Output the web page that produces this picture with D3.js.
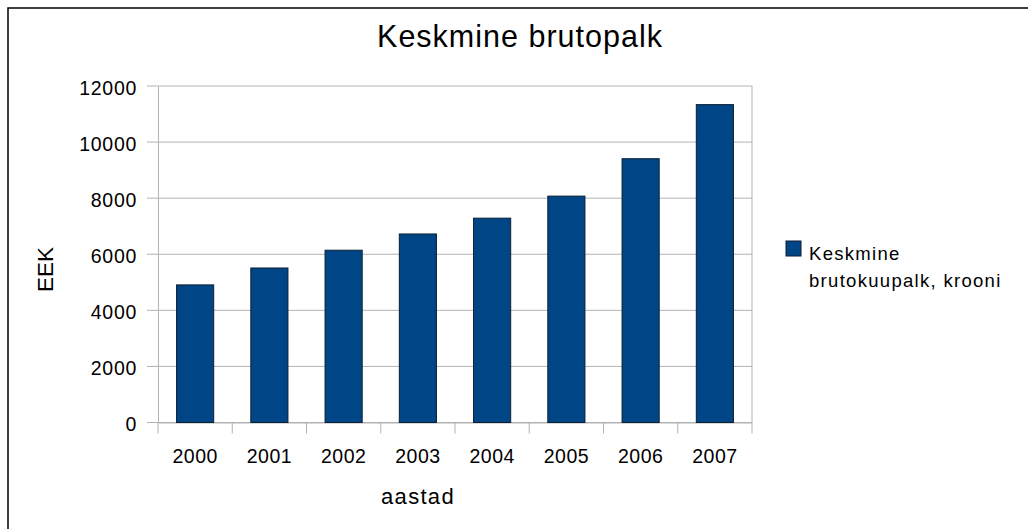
<!DOCTYPE html>
<html>
<head>
<meta charset="utf-8">
<script src="https://cdn.jsdelivr.net/npm/d3@7"></script>
<style>
  html, body { margin: 0; padding: 0; background: #fff; }
  svg { display: block; font-family: "Liberation Sans", Arial, sans-serif; }
</style>
</head>
<body>
<svg id="chart" width="1028" height="529"></svg>
<script>
const title = "Keskmine brutopalk";
const categories = ["2000", "2001", "2002", "2003", "2004", "2005", "2006", "2007"];
const values = [4907, 5510, 6144, 6723, 7287, 8073, 9407, 11336];
const yTicks = [0, 2000, 4000, 6000, 8000, 10000, 12000];
const seriesName = ["Keskmine", "brutokuupalk, krooni"];
const xTitle = "aastad";
const yTitle = "EEK";

(function () {
const svg = d3.select("#chart");
const color = "#004586";
const gridColor = "#b3b3b3";

// outer border
svg.append("rect").attr("x", 8).attr("y", 8).attr("width", 1040).attr("height", 540)
  .attr("fill", "none").attr("stroke", "#000").attr("stroke-width", 1.5);

const pLeft = 158, pRight = 752, pTop = 86, pBottom = 422.5;

const x = d3.scaleBand().domain(categories).range([pLeft, pRight]).paddingInner(0.5).paddingOuter(0.25);
const y = d3.scaleLinear().domain([0, 12000]).range([pBottom, pTop]);

// gridlines
svg.append("g").selectAll("line").data(yTicks).join("line")
  .attr("x1", pLeft - 11).attr("x2", pRight)
  .attr("y1", d => y(d)).attr("y2", d => y(d))
  .attr("stroke", gridColor).attr("stroke-width", 1);

// right border of plot
svg.append("line").attr("x1", pRight).attr("x2", pRight).attr("y1", pTop).attr("y2", pBottom)
  .attr("stroke", gridColor);

// y axis
const yAxis = d3.axisLeft(y).tickValues(yTicks).tickFormat(d3.format("d")).tickSize(0).tickPadding(21);
const gy = svg.append("g").attr("transform", `translate(${pLeft},0)`).call(yAxis);
gy.select(".domain").attr("stroke", gridColor);
gy.selectAll("text").attr("font-size", 19.5).attr("fill", "#000")
  .attr("font-family", "Liberation Sans, Arial, sans-serif").attr("letter-spacing", 0.7).attr("dy", "0.42em");

// x axis
const xb = d3.scaleLinear().domain([0, categories.length]).range([pLeft, pRight]);
const xAxis = d3.axisBottom(x).tickSize(0).tickPadding(27);
const gx = svg.append("g").attr("transform", `translate(0,${pBottom})`).call(xAxis);
gx.select(".domain").attr("stroke", gridColor);
gx.selectAll("text").attr("font-size", 19.5).attr("fill", "#000")
  .attr("font-family", "Liberation Sans, Arial, sans-serif").attr("letter-spacing", 0.5);
svg.append("g").selectAll("line").data(d3.range(categories.length + 1)).join("line")
  .attr("x1", d => xb(d)).attr("x2", d => xb(d))
  .attr("y1", pBottom).attr("y2", pBottom + 11)
  .attr("stroke", gridColor);

// bars
svg.append("g").selectAll("rect").data(values).join("rect")
  .attr("x", (d, i) => x(categories[i]))
  .attr("y", d => y(d))
  .attr("width", x.bandwidth())
  .attr("height", d => pBottom - y(d))
  .attr("fill", color).attr("stroke", "#0a1f33").attr("stroke-width", 1);

// title
svg.append("text").attr("x", 520).attr("y", 47).attr("text-anchor", "middle")
  .attr("font-size", 30.5).attr("letter-spacing", 1).attr("fill", "#000").text(title);

// axis titles
svg.append("text").attr("x", 418).attr("y", 504).attr("text-anchor", "middle")
  .attr("font-size", 22).attr("letter-spacing", 1.3).attr("fill", "#000").text(xTitle);
svg.append("text").attr("transform", "translate(52.5,269.5) rotate(-90)").attr("text-anchor", "middle")
  .attr("font-size", 22.5).attr("fill", "#000").text(yTitle);

// legend
svg.append("rect").attr("x", 786).attr("y", 241).attr("width", 15).attr("height", 15)
  .attr("fill", color).attr("stroke", "#0a1f33").attr("stroke-width", 1);
svg.append("g").selectAll("text").data(seriesName).join("text")
  .attr("x", 809).attr("y", (d, i) => 259.5 + i * 27.5)
  .attr("font-size", 18.5).attr("letter-spacing", 1.3).attr("fill", "#000").text(d => d);
})();
</script>
</body>
</html>
